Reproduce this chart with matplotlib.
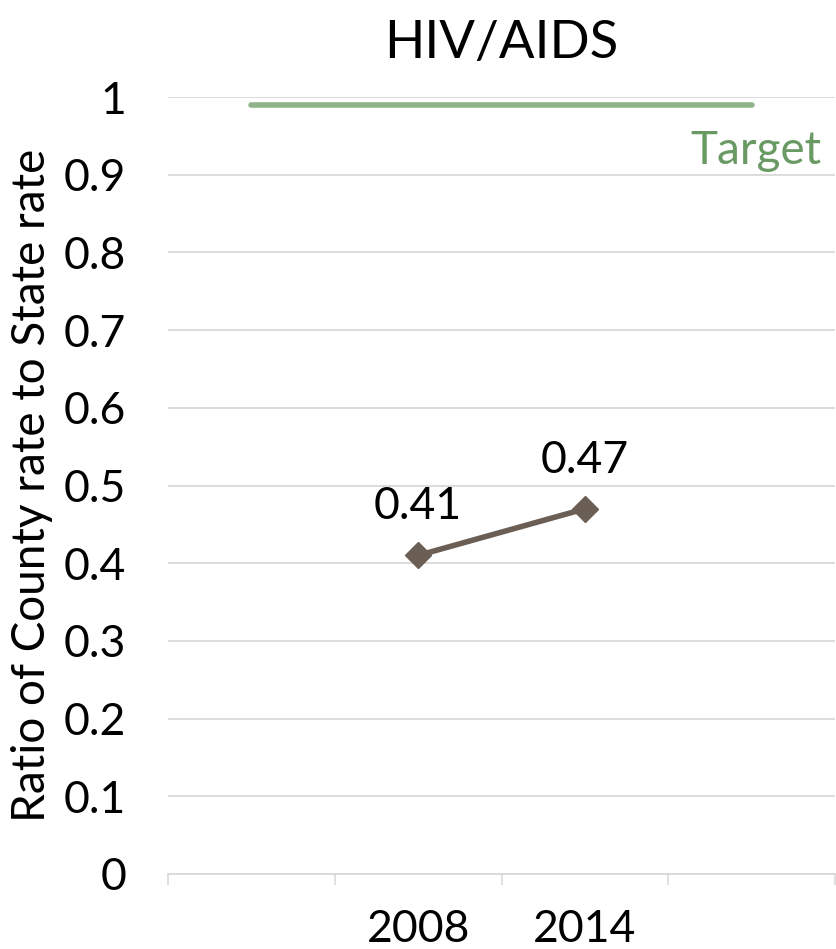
import numpy as np
import matplotlib.pyplot as plt

categories = ["", "2008", "2014", ""]
ratio = [np.nan, 0.41, 0.47, np.nan]
target = [0.99, 0.99, 0.99, 0.99]
ratio_labels = ["", "0.41", "0.47", ""]

plt.rcParams['font.family'] = ['Lato', 'DejaVu Sans']

fig = plt.figure(figsize=(8.36, 9.49), dpi=100)
ax = fig.add_axes([168/836, 1 - 874/949, (835-168)/836, (874-97)/949])

x = np.arange(len(categories))
ax.plot(x, target, color='#8FB48A', lw=4, solid_capstyle='round', zorder=3)
ax.plot(x, ratio, color='#6B5E55', lw=4, marker='D', markersize=13, zorder=4)

for xi, v, t in zip(x, ratio, ratio_labels):
    if t:
        ax.annotate(t, (xi, v), xytext=(0, 35), textcoords='offset points',
                    ha='center', va='center', fontsize=32, color='black')

ax.text(3.42, 0.93, "Target", ha='right', va='center', fontsize=33, color='#6A9A64')

ax.set_xlim(-0.5, 3.5)
ax.set_ylim(0, 1)
ax.set_yticks(np.arange(0, 1.01, 0.1))
ax.set_yticklabels(["0", "0.1", "0.2", "0.3", "0.4", "0.5", "0.6", "0.7", "0.8", "0.9", "1"])
ax.set_xticks(x)
ax.set_xticklabels(categories)
ax.set_xticks(np.arange(-0.5, 3.6, 1), minor=True)
ax.tick_params(axis='x', which='major', length=0, pad=25, labelsize=32)
ax.tick_params(axis='x', which='minor', length=8, width=1.2, color='#D9D9D9')
ax.tick_params(axis='y', length=0, pad=30, labelsize=32)

ax.grid(axis='y', color='#D9D9D9', lw=1.3)
ax.set_axisbelow(True)
for s in ['top', 'right', 'left']:
    ax.spines[s].set_visible(False)
ax.spines['bottom'].set_color('#D9D9D9')
ax.spines['bottom'].set_linewidth(1.3)

ax.set_ylabel("Ratio of County rate to State rate", fontsize=33, labelpad=8)
ax.set_title("HIV/AIDS", fontsize=38, pad=28)

fig.savefig("out.png", dpi=100)
